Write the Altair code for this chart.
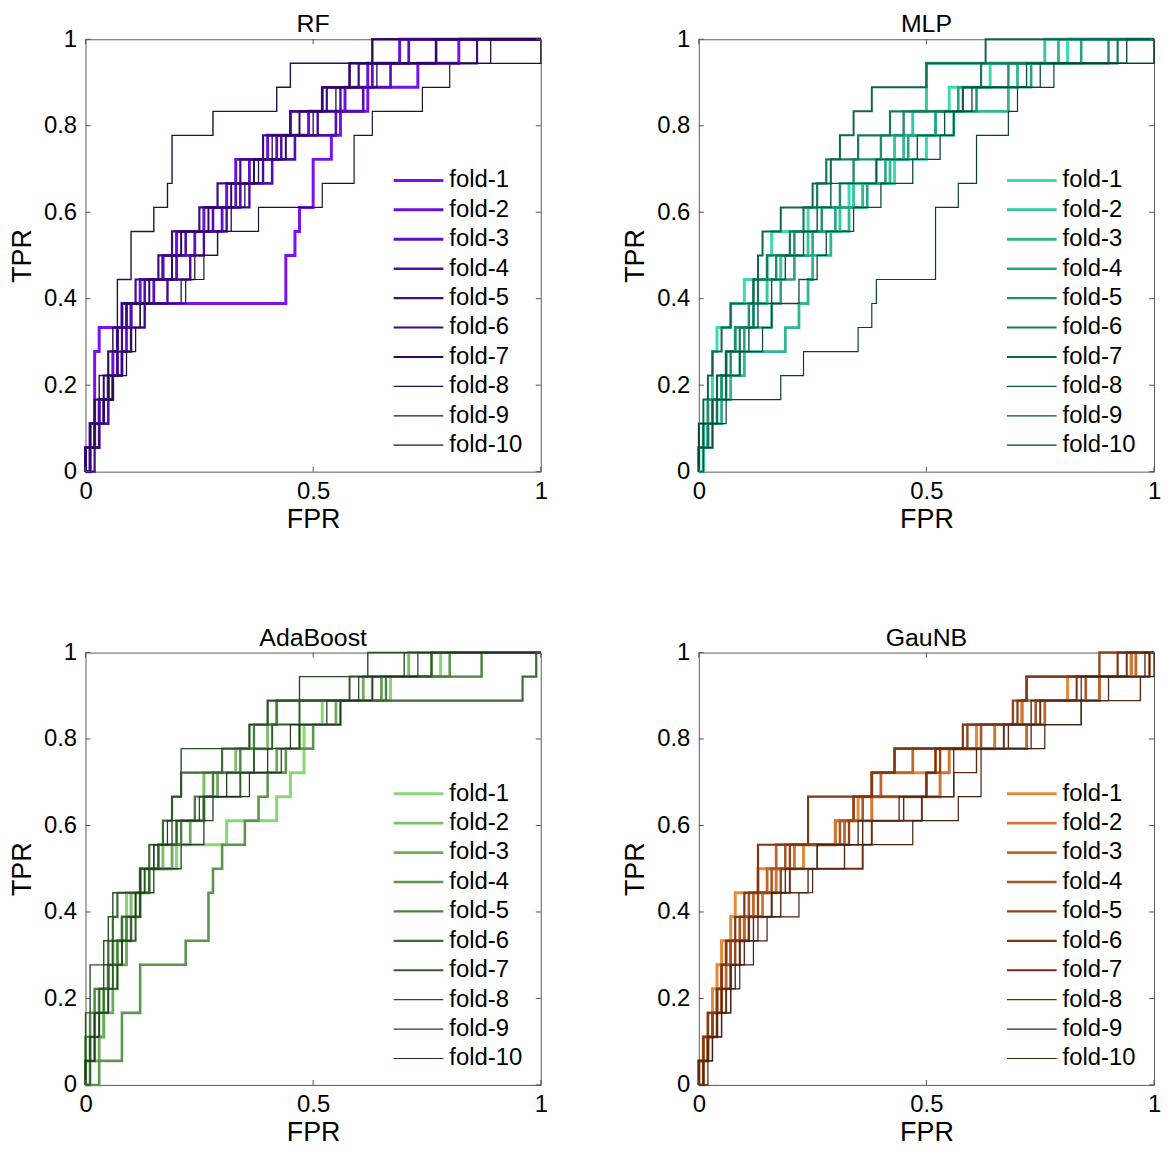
import altair as alt
import pandas as pd

N_POS = 18
folds = [f"fold-{i}" for i in range(1, 11)]

# FPR at which each fold's TPR reaches k/18 (k = 1..18)
rf_thr = [
    [0.00,0.01,0.02,0.02,0.02,0.03,0.10,0.44,0.44,0.46,0.47,0.50,0.50,0.54,0.56,0.62,0.73,0.82],
    [0.01,0.02,0.03,0.05,0.06,0.07,0.08,0.12,0.17,0.20,0.26,0.31,0.33,0.40,0.49,0.57,0.62,0.69],
    [0.00,0.02,0.04,0.05,0.07,0.07,0.09,0.15,0.20,0.24,0.30,0.33,0.36,0.42,0.45,0.52,0.63,0.71],
    [0.01,0.03,0.05,0.06,0.08,0.09,0.10,0.13,0.17,0.22,0.28,0.34,0.41,0.46,0.55,0.61,0.67,0.77],
    [0.00,0.01,0.03,0.06,0.08,0.10,0.13,0.18,0.23,0.26,0.31,0.36,0.39,0.43,0.51,0.56,0.58,0.63],
    [0.02,0.03,0.04,0.06,0.07,0.08,0.09,0.11,0.16,0.19,0.25,0.29,0.34,0.39,0.45,0.53,0.60,0.86],
    [0.00,0.01,0.02,0.04,0.05,0.07,0.08,0.14,0.19,0.21,0.27,0.32,0.37,0.44,0.47,0.52,0.58,0.77],
    [0.00,0.01,0.02,0.03,0.05,0.06,0.07,0.07,0.10,0.10,0.15,0.18,0.19,0.19,0.28,0.42,0.45,0.63],
    [0.01,0.02,0.04,0.05,0.09,0.11,0.12,0.21,0.24,0.29,0.32,0.35,0.38,0.41,0.50,0.55,0.64,0.89],
    [0.00,0.02,0.04,0.06,0.08,0.10,0.12,0.22,0.26,0.29,0.38,0.52,0.59,0.59,0.63,0.74,0.80,1.00],
]
mlp_thr = [
    [0.00,0.01,0.02,0.03,0.03,0.04,0.07,0.10,0.15,0.16,0.24,0.33,0.43,0.50,0.52,0.55,0.64,0.81],
    [0.01,0.02,0.03,0.05,0.06,0.08,0.12,0.15,0.18,0.24,0.31,0.34,0.39,0.43,0.47,0.50,0.50,0.76],
    [0.01,0.02,0.04,0.07,0.10,0.19,0.22,0.24,0.25,0.29,0.33,0.36,0.42,0.45,0.56,0.68,0.70,0.79],
    [0.00,0.03,0.05,0.06,0.09,0.10,0.16,0.18,0.21,0.25,0.30,0.37,0.41,0.46,0.52,0.57,0.73,0.84],
    [0.00,0.01,0.02,0.05,0.07,0.08,0.11,0.12,0.17,0.21,0.27,0.31,0.34,0.40,0.45,0.61,0.68,0.90],
    [0.00,0.02,0.03,0.04,0.06,0.09,0.12,0.13,0.15,0.20,0.23,0.26,0.28,0.35,0.42,0.58,0.62,0.92],
    [0.00,0.00,0.01,0.02,0.03,0.05,0.07,0.12,0.13,0.14,0.18,0.25,0.29,0.31,0.34,0.38,0.50,0.63],
    [0.00,0.01,0.03,0.04,0.06,0.11,0.13,0.16,0.19,0.23,0.26,0.29,0.39,0.48,0.54,0.58,0.72,0.94],
    [0.01,0.03,0.04,0.06,0.09,0.14,0.16,0.22,0.26,0.28,0.34,0.40,0.47,0.53,0.56,0.60,0.75,1.00],
    [0.00,0.00,0.06,0.18,0.23,0.35,0.38,0.39,0.52,0.52,0.52,0.57,0.61,0.61,0.68,0.70,0.78,1.00],
]
ada_thr = [
    [0.00,0.02,0.04,0.04,0.05,0.07,0.09,0.09,0.13,0.20,0.31,0.42,0.45,0.48,0.48,0.52,0.67,0.78],
    [0.00,0.01,0.02,0.03,0.05,0.06,0.08,0.10,0.12,0.17,0.20,0.26,0.26,0.33,0.40,0.42,0.63,0.71],
    [0.01,0.03,0.04,0.06,0.07,0.09,0.10,0.12,0.14,0.19,0.23,0.26,0.29,0.42,0.47,0.55,0.61,0.76],
    [0.03,0.08,0.08,0.12,0.12,0.22,0.27,0.27,0.28,0.30,0.35,0.38,0.40,0.44,0.50,0.56,0.65,0.80],
    [0.00,0.00,0.01,0.02,0.05,0.07,0.09,0.11,0.12,0.16,0.21,0.24,0.28,0.34,0.37,0.42,0.66,0.87],
    [0.00,0.01,0.02,0.04,0.05,0.05,0.06,0.07,0.12,0.14,0.17,0.19,0.21,0.30,0.36,0.40,0.96,0.99],
    [0.00,0.02,0.03,0.05,0.06,0.08,0.11,0.12,0.14,0.16,0.20,0.26,0.34,0.37,0.41,0.47,0.58,0.76],
    [0.00,0.00,0.00,0.01,0.01,0.04,0.05,0.06,0.15,0.15,0.19,0.19,0.21,0.21,0.36,0.40,0.47,0.62],
    [0.01,0.02,0.03,0.05,0.07,0.08,0.10,0.12,0.13,0.21,0.26,0.28,0.31,0.40,0.47,0.53,0.63,0.70],
    [0.00,0.01,0.02,0.03,0.04,0.06,0.08,0.11,0.12,0.15,0.18,0.25,0.36,0.43,0.45,0.56,0.60,0.73],
]
gau_thr = [
    [0.00,0.01,0.02,0.03,0.04,0.05,0.07,0.08,0.13,0.23,0.30,0.35,0.38,0.52,0.61,0.71,0.81,0.95],
    [0.00,0.01,0.03,0.04,0.05,0.06,0.10,0.14,0.17,0.21,0.30,0.38,0.53,0.55,0.65,0.71,0.88,0.95],
    [0.01,0.02,0.03,0.05,0.06,0.07,0.10,0.12,0.15,0.17,0.32,0.34,0.40,0.47,0.72,0.76,0.88,0.96],
    [0.00,0.02,0.04,0.04,0.05,0.07,0.09,0.11,0.16,0.19,0.31,0.36,0.38,0.43,0.62,0.74,0.85,0.99],
    [0.01,0.02,0.03,0.05,0.07,0.08,0.11,0.13,0.18,0.20,0.33,0.34,0.50,0.53,0.59,0.69,0.72,0.88],
    [0.00,0.01,0.02,0.04,0.05,0.06,0.08,0.10,0.13,0.13,0.24,0.24,0.38,0.43,0.58,0.70,0.72,0.92],
    [0.01,0.02,0.04,0.06,0.07,0.09,0.11,0.16,0.20,0.36,0.38,0.49,0.50,0.52,0.67,0.75,0.83,0.94],
    [0.01,0.03,0.05,0.07,0.08,0.10,0.12,0.18,0.24,0.32,0.36,0.45,0.56,0.61,0.68,0.73,0.97,1.00],
    [0.00,0.02,0.04,0.05,0.07,0.09,0.13,0.16,0.19,0.26,0.35,0.44,0.56,0.56,0.73,0.84,0.90,0.98],
    [0.02,0.03,0.05,0.07,0.09,0.12,0.15,0.22,0.25,0.26,0.47,0.57,0.62,0.62,0.76,0.84,0.84,0.99],
]

x_ticks = [0, 0.5, 1]
y_ticks = [0, 0.2, 0.4, 0.6, 0.8, 1]

# styles
rf_colors = ["#7a12f0", "#6c10dc", "#600fc6", "#520db0", "#460c98",
             "#3c0b80", "#2c0a60", "#24104c", "#20123f", "#1c1335"]
mlp_colors = ["#3dd9b2", "#35c8a2", "#2fb693", "#28a382", "#1f8d6f",
              "#18785e", "#11644d", "#0d5443", "#0b4a3b", "#0a4033"]
ada_colors = ["#8ad47a", "#7cc06b", "#6cab5c", "#5c964e", "#4a8040",
              "#3c6c34", "#325c2c", "#2a4e26", "#234221", "#1e381d"]
gau_colors = ["#e58a3c", "#d27733", "#bf662b", "#a85424", "#92441c",
              "#7c3716", "#6a2f14", "#5a2a14", "#4e2614", "#432212"]
widths = [3.0, 3.0, 2.8, 2.6, 2.4, 2.2, 2.0, 1.4, 1.3, 1.2]

FONT = "Liberation Sans"
W, H = 458, 435


def build(thr):
    rows = []
    for f, t in zip(folds, thr):
        pts = [(0.0, 0.0)]
        for k, x in enumerate(t, start=1):
            pts.append((x, (k - 1) / N_POS))
            pts.append((x, k / N_POS))
        pts.append((1.0, 1.0))
        for i, (x, y) in enumerate(pts):
            rows.append({"fold": f, "fpr": x, "tpr": y, "idx": i})
    return pd.DataFrame(rows)


def panel(name, thr, cols):
    df = build(thr)
    leg = dict(title=None, orient="none", legendX=323, legendY=130,
               symbolType="M-2.5,0H2.5", symbolSize=400, labelFontSize=24,
               labelFont=FONT, labelColor="black", rowPadding=5.6,
               labelOffset=19, padding=0, symbolFillColor="transparent")
    xs = alt.Scale(domain=[0, 1], nice=False, zero=False)
    ys = alt.Scale(domain=[0, 1], nice=False, zero=False)
    xax = alt.Axis(values=x_ticks, format="~g", title="FPR", labelFlush=False)
    yax = alt.Axis(values=y_ticks, format="~g", title="TPR", labelFlush=False)
    lines = alt.Chart(df).mark_line(strokeJoin="miter", strokeCap="butt").encode(
        x=alt.X("fpr:Q", scale=xs, axis=xax),
        y=alt.Y("tpr:Q", scale=ys, axis=yax),
        color=alt.Color("fold:N", scale=alt.Scale(domain=folds, range=cols),
                        legend=alt.Legend(**leg)),
        strokeWidth=alt.StrokeWidth("fold:N",
                                    scale=alt.Scale(type="ordinal", domain=folds, range=widths),
                                    legend=alt.Legend(**leg)),
        order="idx:Q",
    )
    xt = pd.DataFrame({"v": x_ticks})
    yt = pd.DataFrame({"v": y_ticks})
    tb = alt.Chart(xt).mark_rule(color="#555", strokeWidth=1).encode(
        x=alt.X("v:Q", scale=xs, axis=xax), y=alt.value(H), y2=alt.value(H - 5))
    tt = alt.Chart(xt).mark_rule(color="#555", strokeWidth=1).encode(
        x=alt.X("v:Q", scale=xs, axis=xax), y=alt.value(0), y2=alt.value(5))
    tl = alt.Chart(yt).mark_rule(color="#555", strokeWidth=1).encode(
        y=alt.Y("v:Q", scale=ys, axis=yax), x=alt.value(0), x2=alt.value(5))
    tr = alt.Chart(yt).mark_rule(color="#555", strokeWidth=1).encode(
        y=alt.Y("v:Q", scale=ys, axis=yax), x=alt.value(W), x2=alt.value(W - 5))
    ttl = alt.Chart(pd.DataFrame({"t": [name]})).mark_text(
        font=FONT, fontSize=25, color="black", baseline="top", align="center"
    ).encode(text="t:N", x=alt.value(W / 2), y=alt.value(-27))
    return alt.layer(lines, tb, tt, tl, tr, ttl).properties(width=W, height=H)


rf = panel("RF", rf_thr, rf_colors)
mlp = panel("MLP", mlp_thr, mlp_colors)
ada = panel("AdaBoost", ada_thr, ada_colors)
gau = panel("GauNB", gau_thr, gau_colors)

row1 = alt.hconcat(rf, mlp, spacing=73).resolve_scale(color="independent", strokeWidth="independent")
row2 = alt.hconcat(ada, gau, spacing=73).resolve_scale(color="independent", strokeWidth="independent")

chart = alt.vconcat(row1, row2, spacing=92).resolve_scale(
    color="independent", strokeWidth="independent"
).properties(padding=0).configure_view(
    stroke="#5a5a5a", strokeWidth=1
).configure_axis(
    domain=False, ticks=False, grid=False,
    labelFont=FONT, labelFontSize=24, labelColor="black",
    titleFont=FONT, titleFontSize=27, titleFontWeight="normal", titleColor="black",
).configure_axisX(labelPadding=8, titlePadding=3).configure_axisY(
    labelPadding=9, titlePadding=7
)

chart.save("out.html", embed_options={"renderer": "svg", "actions": False})
